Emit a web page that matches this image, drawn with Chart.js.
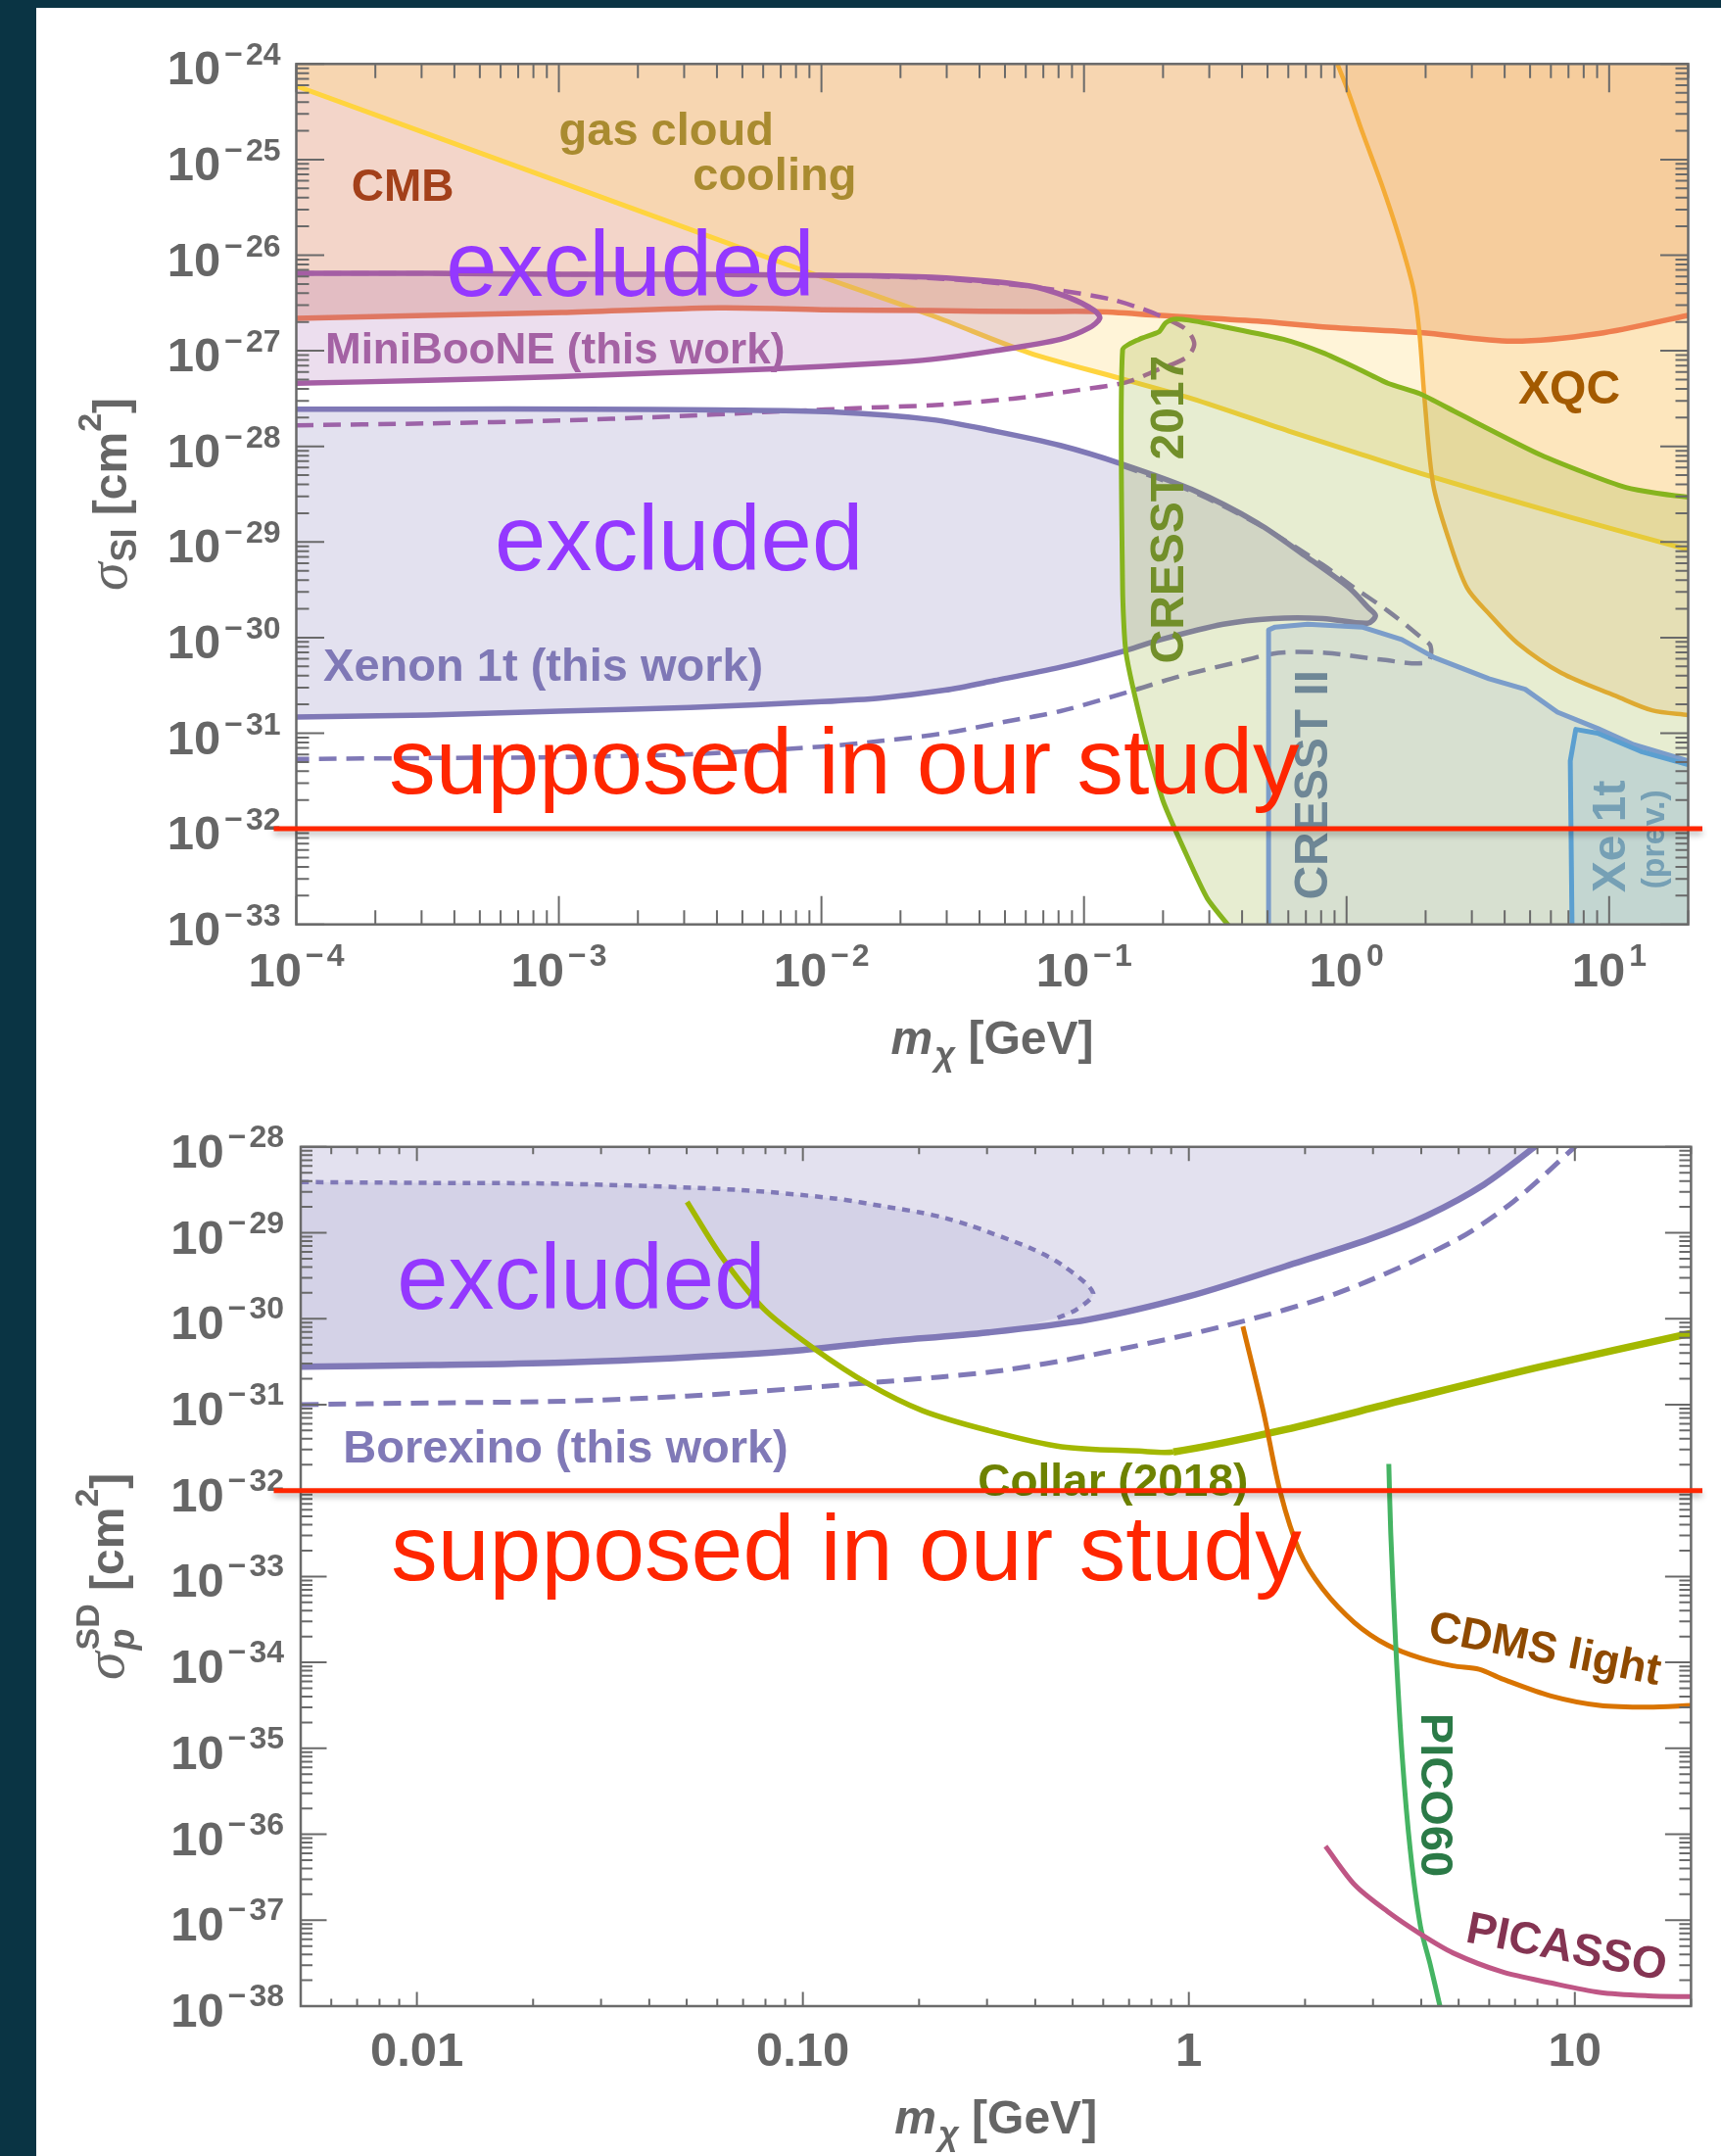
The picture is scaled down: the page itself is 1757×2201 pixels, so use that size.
<!DOCTYPE html>
<html><head><meta charset="utf-8">
<script src="https://cdn.jsdelivr.net/npm/chart.js@4.4.1/dist/chart.umd.min.js"></script>
<style>
html,body{margin:0;padding:0;background:#0a3444;width:1757px;height:2201px;overflow:hidden;}
#panel{position:absolute;left:37px;top:8px;width:1720px;height:2193px;background:#fff;}
canvas{position:absolute;left:0;}
#c1{top:0;} #c2{top:1105px;}
</style></head>
<body><div id="panel"></div>
<canvas id="c1" width="1757" height="1105"></canvas>
<canvas id="c2" width="1757" height="1096"></canvas>
<script>
/* ================= DATA (log10 of m_chi [GeV] and of sigma [cm^2]) ================= */
/* ---- top panel: spin-independent ---- */
const siXRange = [1e-4, 20];
const siYRange = [1e-33, 1e-24];
const siXTickExp = [-4, -3, -2, -1, 0, 1];
const siYTickExp = [-24, -25, -26, -27, -28, -29, -30, -31, -32, -33];

const gasLogM = [-4.00, -3.20, -2.56, -2.13, -1.58, -1.21, -0.86, -0.59, -0.22, 0.03, 0.28, 0.85, 1.301];
const gasLogS = [-24.23, -25.03, -25.67, -26.10, -26.63, -27.02, -27.29, -27.50, -27.84, -28.06, -28.28, -28.74, -29.08];

const cmbLogM = [-4.00, -3.50, -2.99, -2.39, -2.00, -1.58, -1.21, -0.96, -0.71, -0.34, -0.09, 0.28, 0.63, 0.96, 1.301];
const cmbLogS = [-26.66, -26.63, -26.60, -26.55, -26.57, -26.58, -26.59, -26.59, -26.63, -26.69, -26.75, -26.81, -26.90, -26.82, -26.63];

const xqcLogM = [-0.035, 0.005, 0.061, 0.135, 0.201, 0.255, 0.277, 0.298, 0.330, 0.389, 0.459, 0.542, 0.652, 0.818, 1.025, 1.163, 1.301];
const xqcLogS = [-24.00, -24.28, -24.72, -25.27, -25.82, -26.36, -26.80, -27.54, -28.40, -28.97, -29.48, -29.75, -30.06, -30.37, -30.61, -30.76, -30.81];

const minibooneLogM = [-4.00, -3.50, -3.00, -2.50, -2.00, -1.58, -1.21, -1.06, -0.96, -0.94, -0.98, -1.09, -1.34, -1.58, -1.77, -2.20, -2.60, -3.00, -3.50, -4.00];
const minibooneLogS = [-26.19, -26.19, -26.20, -26.20, -26.21, -26.23, -26.32, -26.44, -26.58, -26.66, -26.76, -26.88, -27.00, -27.09, -27.13, -27.19, -27.23, -27.27, -27.31, -27.34];

const minibooneDashLogM = [-4.00, -3.50, -3.00, -2.50, -2.00, -1.58, -1.30, -1.09, -0.90, -0.78, -0.69, -0.61, -0.58, -0.61, -0.72, -0.84, -1.02, -1.27, -1.58, -1.77, -2.20, -2.60, -3.00, -3.50, -4.00];
const minibooneDashLogS = [-26.19, -26.19, -26.20, -26.20, -26.21, -26.24, -26.30, -26.37, -26.46, -26.56, -26.66, -26.78, -26.93, -27.07, -27.20, -27.33, -27.41, -27.50, -27.57, -27.59, -27.64, -27.69, -27.73, -27.76, -27.78];

const xenonLogM = [-4.00, -3.50, -2.89, -2.40, -1.96, -1.58, -1.34, -1.09, -0.86, -0.59, -0.34, -0.16, 0.01, 0.08, 0.11, 0.08, -0.09, -0.28, -0.47, -0.72, -0.86, -1.09, -1.34, -1.53, -1.77, -2.00, -2.50, -3.00, -3.50, -4.00];
const xenonLogS = [-27.61, -27.61, -27.61, -27.62, -27.64, -27.72, -27.84, -27.99, -28.18, -28.45, -28.80, -29.14, -29.48, -29.68, -29.77, -29.85, -29.80, -29.80, -29.86, -30.03, -30.15, -30.31, -30.45, -30.55, -30.63, -30.67, -30.73, -30.77, -30.81, -30.83];

const xenonDashLogM = [-0.86, -0.59, -0.34, -0.09, 0.03, 0.157, 0.28, 0.32, 0.307, 0.13, -0.08, -0.26, -0.42, -0.63, -0.81, -1.09, -1.30, -1.53, -1.77, -2.00, -2.50, -3.00, -3.50, -4.00];
const xenonDashLogS = [-28.20, -28.47, -28.81, -29.24, -29.48, -29.72, -29.99, -30.09, -30.26, -30.23, -30.16, -30.16, -30.26, -30.40, -30.55, -30.77, -30.88, -31.00, -31.08, -31.14, -31.22, -31.25, -31.26, -31.27];

const cresst17LogM = [-0.42, -0.53, -0.62, -0.70, -0.77, -0.84, -0.853, -0.853, -0.79, -0.714, -0.69, -0.66, -0.60, -0.465, -0.24, -0.09, 0.03, 0.157, 0.28, 0.415, 0.74, 1.064, 1.301, 1.50, 1.50];
const cresst17LogS = [-33.11, -32.73, -32.21, -31.70, -31.02, -30.16, -29.48, -26.99, -26.88, -26.80, -26.71, -26.67, -26.68, -26.75, -26.88, -27.02, -27.17, -27.34, -27.45, -27.64, -28.09, -28.43, -28.53, -28.53, -33.50];

const cresst2LogM = [-0.297, -0.297, -0.272, -0.148, 0.059, 0.21, 0.335, 0.542, 0.68, 0.803, 0.956, 1.094, 1.301, 1.50, 1.50];
const cresst2LogS = [-33.10, -29.92, -29.89, -29.86, -29.89, -30.02, -30.21, -30.43, -30.54, -30.78, -30.95, -31.12, -31.29, -31.29, -33.50];

const xe1tPrevLogM = [0.859, 0.852, 0.873, 0.956, 1.12, 1.301, 1.50, 1.50];
const xe1tPrevLogS = [-33.10, -31.29, -30.96, -31.00, -31.19, -31.33, -31.33, -33.50];

/* ---- bottom panel: spin-dependent (proton) ---- */
const sdXRange = [0.005, 20];
const sdYRange = [1e-38, 1e-28];
const sdXTickValues = [0.01, 0.1, 1, 10];
const sdXTickLabels = ['0.01', '0.10', '1', '10'];
const sdYTickExp = [-28, -29, -30, -31, -32, -33, -34, -35, -36, -37, -38];

const borexinoLogM = [-2.30, -1.96, -1.62, -1.30, -1.04, -0.80, -0.52, -0.26, 0.00, 0.25, 0.47, 0.617, 0.764, 0.896, 0.92];
const borexinoLogS = [-30.56, -30.54, -30.51, -30.45, -30.38, -30.27, -30.16, -30.01, -29.74, -29.39, -29.07, -28.80, -28.44, -28.00, -27.90];

const borexinoDotLogM = [-2.30, -1.96, -1.62, -1.17, -0.92, -0.78, -0.70, -0.63, -0.57, -0.52, -0.41, -0.33, -0.248, -0.29, -0.34, -0.52, -0.80, -1.04, -1.30, -1.62, -1.96, -2.30];
const borexinoDotLogS = [-28.41, -28.42, -28.43, -28.50, -28.60, -28.70, -28.76, -28.83, -28.91, -28.99, -29.18, -29.37, -29.70, -29.89, -29.99, -30.16, -30.27, -30.38, -30.45, -30.51, -30.54, -30.56];
const borexinoDotVisible = 15; // points of the dotted outline that are drawn as a line

const borexinoDashLogM = [-2.30, -1.96, -1.62, -1.30, -1.04, -0.65, -0.48, -0.26, 0.105, 0.398, 0.69, 0.84, 1.00, 1.02];
const borexinoDashLogS = [-31.00, -30.98, -30.96, -30.90, -30.82, -30.68, -30.60, -30.43, -30.07, -29.68, -29.09, -28.64, -28.00, -27.90];

const collarLogM = [-1.30, -1.21, -1.10, -0.97, -0.83, -0.69, -0.52, -0.33, -0.13, -0.04, 0.25, 0.545, 0.91, 1.301];
const collarLogS = [-28.64, -29.28, -29.89, -30.35, -30.76, -31.07, -31.30, -31.49, -31.54, -31.55, -31.29, -30.96, -30.56, -30.17];

const cdmsLightLogM = [0.14, 0.193, 0.237, 0.287, 0.346, 0.43, 0.515, 0.60, 0.684, 0.752, 0.811, 0.938, 1.064, 1.19, 1.301];
const cdmsLightLogS = [-30.09, -31.08, -32.02, -32.71, -33.14, -33.54, -33.80, -33.95, -34.04, -34.08, -34.19, -34.39, -34.50, -34.52, -34.50];

const pico60LogM = [0.518, 0.523, 0.536, 0.553, 0.574, 0.60, 0.625, 0.65, 0.655];
const pico60LogS = [-31.69, -32.49, -33.80, -35.11, -36.20, -37.07, -37.51, -37.99, -38.10];

const picassoLogM = [0.354, 0.43, 0.515, 0.60, 0.684, 0.811, 0.938, 1.064, 1.19, 1.301];
const picassoLogS = [-36.14, -36.59, -36.90, -37.16, -37.38, -37.60, -37.73, -37.84, -37.88, -37.89];

const assumedSigma = 1e-32;

/* ================= helpers ================= */
const LS = '"Liberation Sans", Arial, sans-serif';
const SERIF = '"Liberation Serif", "DejaVu Serif", serif';
const GRAY = '#666666';
const toPts = (lm, ls) => lm.map((v, i) => ({ x: Math.pow(10, v), y: Math.pow(10, ls[i]) }));

function series(lm, ls, opts) {
  return Object.assign({
    data: toPts(lm, ls), pointRadius: 0, pointHoverRadius: 0, borderWidth: 0,
    borderColor: 'rgba(0,0,0,0)', backgroundColor: 'rgba(0,0,0,0)', fill: false,
    tension: 0.3, clip: 0, spanGaps: true, borderJoinStyle: 'round'
  }, opts);
}
function stackOrder(list) { const n = list.length; list.forEach((d, i) => { d.order = n - i; }); return list; }

function logTicks(min, max) {
  const out = [];
  for (let d = Math.floor(Math.log10(min)) - 1; d <= Math.ceil(Math.log10(max)); d++) {
    for (let k = 1; k <= 9; k++) {
      const v = k * Math.pow(10, d);
      if (v >= min * (1 - 1e-9) && v <= max * (1 + 1e-9)) out.push({ v, major: k === 1 });
    }
  }
  return out;
}

function drawFrame(chart, T) {
  const { ctx, chartArea: a } = chart;
  const xs = chart.scales.x, ys = chart.scales.y;
  ctx.save();
  ctx.strokeStyle = '#6a6a6a';
  ctx.lineWidth = 2;
  ctx.beginPath();
  for (const t of logTicks(xs.min, xs.max)) {
    const p = xs.getPixelForValue(t.v);
    const L = t.major ? T.xMaj : T.xMin;
    ctx.moveTo(p, a.bottom); ctx.lineTo(p, a.bottom - L);
    ctx.moveTo(p, a.top); ctx.lineTo(p, a.top + L);
  }
  for (const t of logTicks(ys.min, ys.max)) {
    const p = ys.getPixelForValue(t.v);
    const L = t.major ? T.yMaj : T.yMin;
    ctx.moveTo(a.left, p); ctx.lineTo(a.left + L, p);
    ctx.moveTo(a.right, p); ctx.lineTo(a.right - L, p);
  }
  ctx.stroke();
  ctx.lineWidth = 2.5;
  ctx.strokeRect(a.left, a.top, a.right - a.left, a.bottom - a.top);
  ctx.restore();
}

function drawPow(ctx, e, ax, baseY, supY, align) {
  const B = `bold 49px ${LS}`, S = `bold 32px ${LS}`;
  ctx.font = B; const w1 = ctx.measureText('10').width;
  ctx.font = S;
  const neg = e < 0, digits = String(Math.abs(e));
  const wm = neg ? ctx.measureText('\u2212').width + 3 : 0;
  const wd = ctx.measureText(digits).width;
  const total = w1 + 4 + wm + wd;
  const x0 = align === 'right' ? ax - total : ax - total / 2;
  ctx.font = B; ctx.fillText('10', x0, baseY);
  ctx.font = S; let xx = x0 + w1 + 4;
  if (neg) { ctx.fillText('\u2212', xx, supY); xx += wm; }
  ctx.fillText(digits, xx, supY);
}

function layoutRich(ctx, parts) {
  let x = 0, sx = 0, sw = 0; const items = [];
  for (const p of parts) {
    ctx.font = p.f; const w = ctx.measureText(p.t).width; const dx = p.dx || 0;
    if (p.stack === 'start') { sx = x + dx; sw = w; items.push({ p, x: sx }); continue; }
    if (p.stack === 'end') { items.push({ p, x: sx }); x = sx + Math.max(sw, w); continue; }
    items.push({ p, x: x + dx }); x += dx + w;
  }
  return { items, width: x };
}
function drawRich(ctx, parts, cx, by, rot) {
  const L = layoutRich(ctx, parts);
  ctx.save(); ctx.translate(cx, by); if (rot) ctx.rotate(rot);
  ctx.textAlign = 'left'; ctx.textBaseline = 'alphabetic';
  for (const it of L.items) { ctx.font = it.p.f; ctx.fillText(it.p.t, it.x - L.width / 2, it.p.dy || 0); }
  ctx.restore();
}

function drawLabels(chart, labels) {
  const { ctx } = chart; const xs = chart.scales.x, ys = chart.scales.y;
  for (const L of labels) {
    const x = xs.getPixelForValue(Math.pow(10, L.m)), y = ys.getPixelForValue(Math.pow(10, L.s));
    ctx.save(); ctx.translate(x, y); if (L.rot) ctx.rotate(L.rot * Math.PI / 180);
    ctx.font = L.font; ctx.fillStyle = L.color; ctx.textAlign = L.align || 'left'; ctx.textBaseline = 'alphabetic';
    ctx.fillText(L.t, 0, 0); ctx.restore();
  }
}

function drawAssumed(chart, ext) {
  const { ctx, chartArea: a } = chart;
  const y = chart.scales.y.getPixelForValue(assumedSigma);
  ctx.save();
  ctx.shadowColor = 'rgba(0,0,0,0.28)'; ctx.shadowBlur = 6; ctx.shadowOffsetY = 4;
  ctx.strokeStyle = '#ff2600'; ctx.lineWidth = 5;
  ctx.beginPath(); ctx.moveTo(a.left - ext[0], y); ctx.lineTo(a.right + ext[1], y); ctx.stroke();
  ctx.restore();
}

function overlay(cfg) {
  return {
    id: 'overlay' + cfg.name,
    afterDraw(chart) {
      const { ctx, chartArea: a } = chart;
      drawFrame(chart, cfg.ticks);
      ctx.save(); ctx.fillStyle = GRAY; ctx.textAlign = 'left'; ctx.textBaseline = 'alphabetic';
      cfg.tickLabels(chart);
      drawRich(ctx, cfg.xTitle, (a.left + a.right) / 2, a.bottom + cfg.xTitleGap);
      drawRich(ctx, cfg.yTitle, a.left - cfg.yTitleGap, (a.top + a.bottom) / 2, -Math.PI / 2);
      ctx.restore();
      drawLabels(chart, cfg.labels);
      drawAssumed(chart, cfg.redExt);
    }
  };
}

function baseOptions(xr, yr, pad) {
  return {
    responsive: false, animation: false, devicePixelRatio: 1, events: [],
    layout: { padding: pad },
    elements: { line: { capBezierPoints: false } },
    plugins: { legend: { display: false }, tooltip: { enabled: false } },
    scales: {
      x: { type: 'logarithmic', min: xr[0], max: xr[1], display: false, bounds: 'data' },
      y: { type: 'logarithmic', min: yr[0], max: yr[1], display: false, bounds: 'data' }
    }
  };
}

/* ================= TOP CHART ================= */
const topSets = stackOrder([
  series(cmbLogM, cmbLogS, { fill: 'end', backgroundColor: 'rgba(225,150,120,0.40)' }),
  series(gasLogM, gasLogS, { fill: 'end', backgroundColor: 'rgba(255,215,115,0.28)' }),
  series(xqcLogM, xqcLogS, { fill: 'end', backgroundColor: 'rgba(245,170,80,0.20)' }),
  series(gasLogM, gasLogS, { borderColor: '#ffd43f', borderWidth: 5 }),
  series(cmbLogM, cmbLogS, { borderColor: '#ef7f50', borderWidth: 5.5 }),
  series(xqcLogM, xqcLogS, { borderColor: '#f4ab36', borderWidth: 4.5 }),
  series(minibooneDashLogM, minibooneDashLogS, { borderColor: '#a45ea4', borderWidth: 4.5, borderDash: [18, 10] }),
  series(minibooneLogM, minibooneLogS, { fill: 'shape', backgroundColor: 'rgba(160,90,170,0.20)', borderColor: '#a45ea4', borderWidth: 5.5 }),
  series(xenonLogM, xenonLogS, { fill: 'shape', backgroundColor: 'rgba(128,120,184,0.22)', borderColor: '#7f78b6', borderWidth: 5.5 }),
  series(xenonDashLogM, xenonDashLogS, { borderColor: '#7f78b6', borderWidth: 4.5, borderDash: [18, 10] }),
  series(cresst17LogM, cresst17LogS, { fill: 'shape', backgroundColor: 'rgba(140,170,40,0.21)', borderColor: '#86b41e', borderWidth: 5, tension: 0.2 }),
  series(cresst2LogM, cresst2LogS, { fill: 'shape', backgroundColor: 'rgba(120,150,200,0.15)', borderColor: '#7b9dca', borderWidth: 5, tension: 0 }),
  series(xe1tPrevLogM, xe1tPrevLogS, { fill: 'shape', backgroundColor: 'rgba(90,160,210,0.16)', borderColor: '#5b9fd0', borderWidth: 5, tension: 0 })
]);

const topLabels = [
  { t: 'gas cloud', m: -3.00, s: -24.85, font: `bold 47px ${LS}`, color: '#a98b30' },
  { t: 'cooling', m: -2.49, s: -25.32, font: `bold 47px ${LS}`, color: '#a98b30' },
  { t: 'CMB', m: -3.79, s: -25.43, font: `bold 46px ${LS}`, color: '#a3401a' },
  { t: 'XQC', m: 0.654, s: -27.55, font: `bold 48px ${LS}`, color: '#a35a00' },
  { t: 'MiniBooNE (this work)', m: -3.89, s: -27.13, font: `bold 44px ${LS}`, color: '#a462a4' },
  { t: 'Xenon 1t (this work)', m: -3.897, s: -30.45, font: `bold 47px ${LS}`, color: '#7f78b6' },
  { t: 'CRESST 2017', m: -0.622, s: -28.66, rot: -90, align: 'center', font: `bold 48px ${LS}`, color: '#728f2a' },
  { t: 'CRESST II', m: -0.074, s: -31.54, rot: -90, align: 'center', font: `bold 48px ${LS}`, color: '#6e8796' },
  { t: 'Xe 1t', m: 1.059, s: -32.08, rot: -90, align: 'center', font: `bold 48px ${LS}`, color: '#76a0b5' },
  { t: '(prev.)', m: 1.21, s: -32.11, rot: -90, align: 'center', font: `bold 34px ${LS}`, color: '#76a0b5' },
  { t: 'excluded', m: -3.43, s: -26.43, font: `94px ${LS}`, color: '#9438ff' },
  { t: 'excluded', m: -3.245, s: -29.29, font: `94px ${LS}`, color: '#9438ff' },
  { t: 'supposed in our study', m: -3.647, s: -31.63, font: `95px ${LS}`, color: '#ff2600' }
];

const xTitleParts = [
  { t: 'm', f: `italic bold 48px ${LS}` },
  { t: '\u03C7', f: `italic bold 36px ${LS}`, dy: 12, dx: 2 },
  { t: ' [GeV]', f: `bold 48px ${LS}` }
];

new Chart(document.getElementById('c1'), {
  type: 'line',
  data: { datasets: topSets },
  options: baseOptions(siXRange, siYRange, { left: 302.5, right: 33.5, top: 65.3, bottom: 161.3 }),
  plugins: [overlay({
    name: 'SI',
    ticks: { xMaj: 29, xMin: 14.5, yMaj: 28.5, yMin: 13 },
    tickLabels(chart) {
      const { ctx, chartArea: a } = chart;
      for (const e of siYTickExp) {
        const p = chart.scales.y.getPixelForValue(Math.pow(10, e));
        drawPow(ctx, e, a.left - 16, p + 21, p + 1, 'right');
      }
      for (const e of siXTickExp) {
        const p = chart.scales.x.getPixelForValue(Math.pow(10, e));
        drawPow(ctx, e, p, a.bottom + 63, a.bottom + 42, 'center');
      }
    },
    xTitle: xTitleParts, xTitleGap: 132,
    yTitle: [
      { t: '\u03C3', f: `italic 58px ${SERIF}` },
      { t: 'SI', f: `bold 36px ${LS}`, dy: 10, dx: 1 },
      { t: ' [cm', f: `bold 48px ${LS}` },
      { t: '2', f: `bold 34px ${LS}`, dy: -26 },
      { t: ']', f: `bold 48px ${LS}` }
    ],
    yTitleGap: 174,
    labels: topLabels,
    redExt: [23, 14.5]
  })]
});

/* ================= BOTTOM CHART ================= */
const botSets = stackOrder([
  series(borexinoDotLogM, borexinoDotLogS, { fill: 'shape', backgroundColor: 'rgba(128,120,184,0.15)' }),
  series(borexinoLogM, borexinoLogS, { fill: 'end', backgroundColor: 'rgba(128,120,184,0.22)', borderColor: '#8079b7', borderWidth: 6.5 }),
  series(borexinoDotLogM.slice(0, borexinoDotVisible), borexinoDotLogS.slice(0, borexinoDotVisible),
    { borderColor: '#8079b7', borderWidth: 4.5, borderDash: [8, 7] }),
  series(borexinoDashLogM, borexinoDashLogS, { borderColor: '#8079b7', borderWidth: 5, borderDash: [18, 10] }),
  series(collarLogM, collarLogS, { borderColor: '#a3b800', borderWidth: 5.5,
    segment: { borderWidth: c => (c.p0DataIndex >= 9 ? 7.5 : 5.5) } }),
  series(cdmsLightLogM, cdmsLightLogS, { borderColor: '#d97400', borderWidth: 5 }),
  series(pico60LogM, pico60LogS, { borderColor: '#45b463', borderWidth: 5 }),
  series(picassoLogM, picassoLogS, { borderColor: '#bf5685', borderWidth: 5 })
]);

const botLabels = [
  { t: 'Borexino (this work)', m: -2.191, s: -31.67, font: `bold 47px ${LS}`, color: '#8079b7' },
  { t: 'Collar (2018)', m: -0.547, s: -32.06, font: `bold 46px ${LS}`, color: '#6e8200' },
  { t: 'CDMS light', m: 0.617, s: -33.74, rot: 11, font: `bold 45px ${LS}`, color: '#8f4a00' },
  { t: 'PICO60', m: 0.602, s: -34.59, rot: 90, font: `bold 47px ${LS}`, color: '#2b7a47' },
  { t: 'PICASSO', m: 0.714, s: -37.25, rot: 11, font: `bold 46px ${LS}`, color: '#843452' },
  { t: 'excluded', m: -2.052, s: -29.88, font: `94px ${LS}`, color: '#9438ff' },
  { t: 'supposed in our study', m: -2.067, s: -33.04, font: `95px ${LS}`, color: '#ff2600' }
];

new Chart(document.getElementById('c2'), {
  type: 'line',
  data: { datasets: botSets },
  options: baseOptions(sdXRange, sdYRange, { left: 307, right: 30.6, top: 65.8, bottom: 153 }),
  plugins: [overlay({
    name: 'SD',
    ticks: { xMaj: 14.5, xMin: 7.5, yMaj: 26.5, yMin: 12 },
    tickLabels(chart) {
      const { ctx, chartArea: a } = chart;
      for (const e of sdYTickExp) {
        const p = chart.scales.y.getPixelForValue(Math.pow(10, e));
        drawPow(ctx, e, a.left - 17, p + 21, p, 'right');
      }
      ctx.font = `bold 49px ${LS}`; ctx.textAlign = 'center';
      sdXTickValues.forEach((v, i) => {
        const p = chart.scales.x.getPixelForValue(v);
        ctx.fillText(sdXTickLabels[i], p, a.bottom + 61);
      });
      ctx.textAlign = 'left';
    },
    xTitle: xTitleParts, xTitleGap: 130,
    yTitle: [
      { t: '\u03C3', f: `italic 58px ${SERIF}` },
      { t: 'SD', f: `bold 34px ${LS}`, dy: -25, dx: 2, stack: 'start' },
      { t: 'p', f: `italic bold 36px ${LS}`, dy: 11, stack: 'end' },
      { t: ' [cm', f: `bold 48px ${LS}` },
      { t: '2', f: `bold 34px ${LS}`, dy: -26 },
      { t: ']', f: `bold 48px ${LS}` }
    ],
    yTitleGap: 181,
    labels: botLabels,
    redExt: [27.5, 11.6]
  })]
});
</script>
</body></html>
